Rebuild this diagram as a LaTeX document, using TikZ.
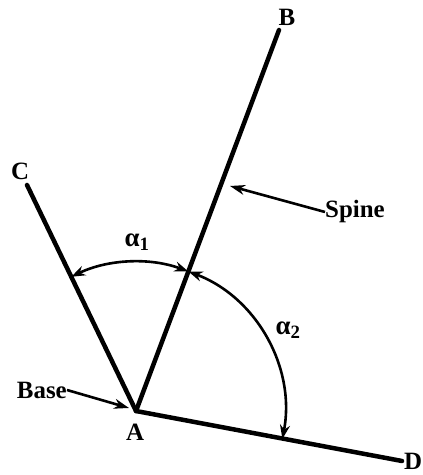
\documentclass[tikz,border=0pt]{standalone}
\usepackage{fontspec}
\setmainfont{Liberation Serif}
\usetikzlibrary{arrows.meta,calc}
\begin{document}
\begin{tikzpicture}[x=1bp,y=1bp,
  ray/.style={line width=4.5bp,line cap=round},
  anglearc/.style={line width=2.6bp,{Stealth[length=14bp,width=10bp]}-{Stealth[length=14bp,width=10bp]}},
  pointer/.style={line width=2.6bp,-{Stealth[length=15bp,width=10bp]}},
  lbl/.style={font=\fontsize{25}{25}\selectfont\bfseries,inner sep=0pt},
  alab/.style={font=\fontsize{27}{27}\selectfont\bfseries,inner sep=0pt}]
\useasboundingbox (0,0) rectangle (422,475);
\coordinate (A) at (136,64);
\coordinate (Bend) at (279,445);
\coordinate (Cend) at (27,290);
\coordinate (Dend) at (402,14);
\draw[ray] (A) -- (Bend);
\draw[ray] (A) -- (Cend);
\draw[ray] (A) -- (Dend);
\node[lbl] (B) at (287,458) {B};
\node[lbl] (C) at (20,304) {C};
\node[lbl,anchor=west] (D) at (404,14) {D};
\node[lbl] (Alab) at (135,43) {A};
\draw[anglearc] ($(A)+(115.75:149)$) arc[start angle=115.75,end angle=69.4,radius=149];
\draw[anglearc] ($(A)+(69.4:149)$) arc[start angle=69.4,end angle=-10.8,radius=149];
\node[alab] (a1) at (137,233) {α\textsubscript{1}};
\node[alab] (a2) at (288,145) {α\textsubscript{2}};
\node[lbl,anchor=west] (spine) at (325,263) {Spine};
\coordinate (spinetip) at (230,289);
\draw[pointer] (spine.west) -- (spinetip);
\node[lbl,anchor=east] (base) at (67,85) {Base};
\coordinate (basetip) at (129,67);
\draw[pointer] (base.east) -- (basetip);
\end{tikzpicture}
\end{document}
